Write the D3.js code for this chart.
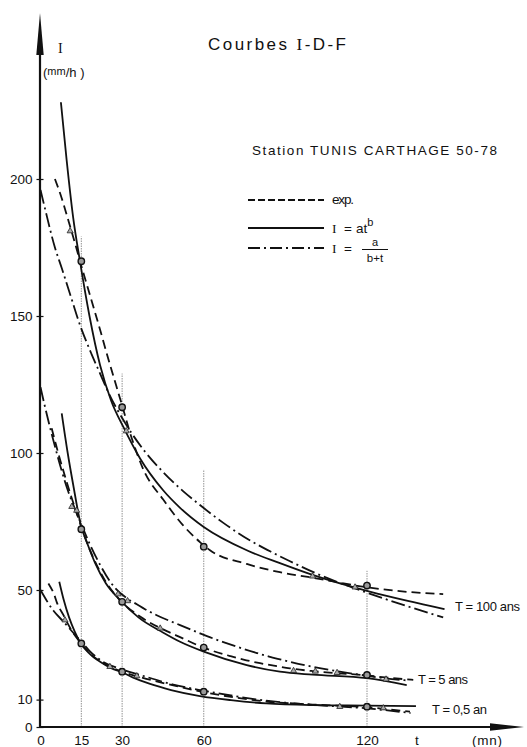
<!DOCTYPE html>
<html><head><meta charset="utf-8">
<script src="https://cdn.jsdelivr.net/npm/d3@7"></script>
<style>
body{margin:0;background:#fff}
svg{display:block}
text{font-family:"Liberation Sans",Arial,sans-serif;fill:#111}
.serif{font-family:"Liberation Serif",serif}
</style>
</head><body>
<svg id="chart" width="527" height="747"></svg>
<script>
// ---- data ----
const durations = [15, 30, 60, 120];          // minutes (measured durations)
const xTicks = [0, 15, 30, 60, 120];
const yTicks = [0, 10, 50, 100, 150, 200];
const seriesNames = ["T = 100 ans", "T = 5 ans", "T = 0,5 an"];
const legendLabels = ["exp.", "I = at^b", "I = a/(b+t)"];

// measured intensities at durations 15, 30, 60, 120 (mm/h)
const obs100 = [170, 116.7, 65.8, 51.6];
const obs5   = [72.2, 45.7, 29.0, 19.0];
const obs05  = [30.5, 20.2, 12.9, 7.4];

// guide line heights at each duration (mm/h)
const guideTops = [179, 129, 94, 57];

// T = 100 ans
const exp100 = [[5.3,200],[7.8,193],[10.2,185],[12.7,176.5],[15.1,168],[18.2,157.5],[21.9,145],[24.3,136.5],[29.8,118],[33.5,105.5],[37.8,94],[45.1,83],[52.5,73.5],[58.6,67.5],[62.3,64.5],[75.8,59.5],[88,56.5],[100,54.5],[120,51],[135,49.3],[148,48.5]];
const pow100 = [[7.5,228],[9.6,207],[12,186],[14.5,170],[18,150],[21.9,132],[26,119],[30.4,109.6],[36.6,98],[45,86.5],[51.3,80],[60,73],[75.8,64.5],[88,59.8],[100,55.5],[121,49.4],[135,46],[148.5,43]];
const hyp100 = [[0,196],[1.7,189],[5.3,175],[7.8,167.5],[11.5,156],[13.9,148.5],[18.8,136],[21.9,129],[25,122],[31.7,110],[38.4,100.5],[45.1,93],[52.5,86],[58.6,81],[67.2,74.5],[75.8,68.8],[85,63.8],[91.7,60.5],[100.3,56.5],[120,49],[131,45.3],[148,40]];

// T = 5 ans
const exp5 = [[4.1,109],[5.3,104.5],[6.5,100],[8.4,93.5],[9.6,89.5],[11.5,83.5],[13.3,78],[15,73],[17,67.5],[20,60.5],[24,53],[29,46.5],[36.6,40.3],[46.4,35],[51.3,32.8],[58.6,29.5],[63.5,27.7],[69.7,25.9],[74.6,24.6],[80.7,23.3],[86.8,22.2],[91.7,21.4],[100,20.4],[120,18.8],[129.7,17.8],[137,17.2]];
const pow5 = [[7.8,114.5],[10,100],[12,88.5],[15,73],[17,67.5],[20,60],[24,52.5],[29.2,46.4],[36,40],[45,34.5],[51.3,31.1],[60,27.5],[75.8,22.6],[88,20.2],[100,19.1],[120,17.8],[134.6,15.3]];
const hyp5 = [[0,124],[1.5,117.5],[3.2,110.5],[4.5,105.5],[7.8,93.5],[10,86.5],[12.7,79.5],[15,74],[18,67],[22,59],[26,52.5],[31.7,47],[35.4,44.8],[38.4,43],[42.7,40.8],[48.8,38.2],[51.3,37.2],[58.6,34.2],[63.5,32.3],[67.2,31],[79.5,27],[84,25.7],[88,24.7],[97.9,22.4],[110,20.2],[120,18.7],[124.8,18],[134.6,17]];

// T = 0,5 an
const exp05 = [[2.9,52.4],[5.3,47.6],[6,45.5],[8.4,40.9],[11,36],[14.5,31],[18,27],[21.9,24],[30,20.2],[36.6,18.2],[48.8,15.2],[58.6,13],[70,11],[83,9.3],[100,8.2],[120,7.2],[135.8,5.6]];
const pow05 = [[6.9,53],[8.5,46.5],[10.5,40],[12.5,35],[14.5,31],[18,26.8],[21.9,23.8],[26,21.5],[30.4,19.8],[34.1,18],[40,15.8],[48,13.5],[58.6,11.3],[70,9.8],[83,8.6],[100,8],[120,7.8],[138,7.6]];
const hyp05 = [[0,50],[4.7,42.5],[8.4,38.5],[13.3,33],[15,31.2],[18,27.8],[21.9,24.5],[30,21],[36.6,19],[48.8,15.5],[58.6,13.5],[70,11.5],[83,9.6],[100,8.1],[120,6.8],[136,5.1]];

// small hatched markers along the curves
const markers = [[10.9,181],[31.5,108],[100,55],[115.6,51],[11.5,80.4],[13.3,79],[28.5,48.5],[32,46],[44,36],[93,20.5],[101,20.3],[109,19.8],[127,17.4],[9,39],[25.5,22],[35.4,18.6],[110,7.4],[126,6.9]];

// ---- drawing ----
const svg = d3.select("#chart");
const x = d3.scaleLinear().domain([0, 120]).range([40.5, 367]);
const y = d3.scaleLinear().domain([0, 200]).range([727, 179]);
const line = d3.line().x(d => x(d[0])).y(d => y(d[1])).curve(d3.curveMonotoneX);

const styles = {
  exp: {dash: "9,5"},
  pow: {dash: null},
  hyp: {dash: "14,4,2,4"}
};

// guide lines
svg.append("g").selectAll("line").data(durations).join("line")
  .attr("x1", d => x(d)).attr("x2", d => x(d))
  .attr("y1", y(0)).attr("y2", (d, i) => y(guideTops[i]))
  .attr("stroke", "#777").attr("stroke-width", 0.8).attr("stroke-dasharray", "1.5,1");

// curves
const curves = [
  [exp100, "exp"], [pow100, "pow"], [hyp100, "hyp"],
  [exp5, "exp"], [pow5, "pow"], [hyp5, "hyp"],
  [exp05, "exp"], [pow05, "pow"], [hyp05, "hyp"]
];
svg.append("g").selectAll("path").data(curves).join("path")
  .attr("d", d => line(d[0]))
  .attr("fill", "none").attr("stroke", "#111").attr("stroke-width", 1.8)
  .attr("stroke-dasharray", d => styles[d[1]].dash);

// markers
svg.append("g").selectAll("path").data(markers).join("path")
  .attr("transform", d => `translate(${x(d[0])},${y(d[1])})`)
  .attr("d", d3.symbol(d3.symbolTriangle, 16))
  .attr("fill", "#aaa").attr("stroke", "#222").attr("stroke-width", 0.8);

// observed points
const obs = [obs100, obs5, obs05].flatMap(arr => arr.map((v, i) => [durations[i], v]));
svg.append("g").selectAll("circle").data(obs).join("circle")
  .attr("cx", d => x(d[0])).attr("cy", d => y(d[1])).attr("r", 3.2)
  .attr("fill", "#999").attr("stroke", "#111").attr("stroke-width", 1.4);

// axes lines with arrows
svg.append("line").attr("x1", 40).attr("x2", 40).attr("y1", 728).attr("y2", 50)
  .attr("stroke", "#111").attr("stroke-width", 2.2);
svg.append("path").attr("d", "M40,13L36.3,55L43.7,55Z").attr("fill", "#111");
svg.append("line").attr("x1", 39).attr("x2", 495).attr("y1", 727).attr("y2", 727)
  .attr("stroke", "#111").attr("stroke-width", 2.2);
svg.append("path").attr("d", "M524,727L490,723.3L490,730.7Z").attr("fill", "#111");

// y axis ticks
const ya = svg.append("g").attr("transform", "translate(40,0)")
  .call(d3.axisLeft(y).tickValues(yTicks).tickSize(3.5).tickPadding(4));
ya.select(".domain").remove();
ya.selectAll(".tick line").attr("stroke", "#111").attr("stroke-width", 1.2).attr("x2", 3.5).attr("x1", -3.5);
ya.selectAll(".tick text").style("font-size", "13.5px").attr("fill", "#111")
  .style("font-family", '"Liberation Sans",Arial,sans-serif');

// x axis labels
const xa = svg.append("g").attr("transform", "translate(0,727)")
  .call(d3.axisBottom(x).tickValues(xTicks).tickSize(0).tickPadding(8.5));
xa.select(".domain").remove();
xa.selectAll(".tick text").style("font-size", "13.5px").attr("fill", "#111")
  .style("font-family", '"Liberation Sans",Arial,sans-serif');

svg.append("text").attr("x", 415).attr("y", 745).style("font-size", "13.5px").text("t");
svg.append("text").attr("x", 472).attr("y", 745).style("font-size", "13.5px")
  .attr("textLength", 30).attr("lengthAdjust", "spacing").text("(mn)");

// y axis title
svg.append("text").attr("x", 58).attr("y", 53).attr("class", "serif").style("font-size", "14px").text("I");
const yt = svg.append("text").attr("x", 43).attr("y", 77).style("font-size", "13px");
yt.append("tspan").text("(");
yt.append("tspan").attr("dy", -2).style("font-size", "11px").text("mm");
yt.append("tspan").attr("dy", 2).text("/h )");

// title
const title = svg.append("text").attr("x", 208).attr("y", 50).style("font-size", "17px")
  .attr("textLength", 138).attr("lengthAdjust", "spacing");
title.append("tspan").text("Courbes ");
title.append("tspan").attr("class", "serif").text("I");
title.append("tspan").text("-D-F");

svg.append("text").attr("x", 252).attr("y", 155).style("font-size", "13.5px")
  .attr("textLength", 245).attr("lengthAdjust", "spacing")
  .text("Station  TUNIS CARTHAGE  50-78");

// legend
const legY = [200, 228, 248];
const legKeys = ["exp", "pow", "hyp"];
svg.append("g").selectAll("line").data(legKeys).join("line")
  .attr("x1", 248).attr("x2", 324).attr("y1", (d, i) => legY[i]).attr("y2", (d, i) => legY[i])
  .attr("stroke", "#111").attr("stroke-width", 1.8)
  .attr("stroke-dasharray", d => d === "exp" ? "7,3" : (d === "hyp" ? "12,4,2,4" : null));

svg.append("text").attr("x", 332).attr("y", 204).style("font-size", "13.5px")
  .attr("textLength", 22).attr("lengthAdjust", "spacing").text(legendLabels[0]);
const l2 = svg.append("text").attr("x", 332).attr("y", 232.5).style("font-size", "13.5px");
l2.append("tspan").attr("class", "serif").text("I");
l2.append("tspan").attr("x", 344).text("=");
l2.append("tspan").attr("x", 356).text("at");
l2.append("tspan").attr("dy", -7).style("font-size", "11px").text("b");
const l3 = svg.append("text").attr("x", 332).attr("y", 252.5).style("font-size", "13.5px");
l3.append("tspan").attr("class", "serif").text("I");
l3.append("tspan").attr("x", 344).text("=");
svg.append("text").attr("x", 375).attr("y", 246).attr("text-anchor", "middle").style("font-size", "11px").text("a");
svg.append("line").attr("x1", 362).attr("x2", 388).attr("y1", 249.5).attr("y2", 249.5)
  .attr("stroke", "#111").attr("stroke-width", 1);
svg.append("text").attr("x", 375).attr("y", 262).attr("text-anchor", "middle").style("font-size", "11.5px").text("b+t");

// series labels
const labPos = [[455, 611, 65], [418, 684, 50], [432, 714, 55]];
svg.append("g").selectAll("text").data(seriesNames).join("text")
  .attr("x", (d, i) => labPos[i][0]).attr("y", (d, i) => labPos[i][1])
  .attr("textLength", (d, i) => labPos[i][2]).attr("lengthAdjust", "spacing")
  .style("font-size", "13px").text(d => d);
</script>
</body></html>
